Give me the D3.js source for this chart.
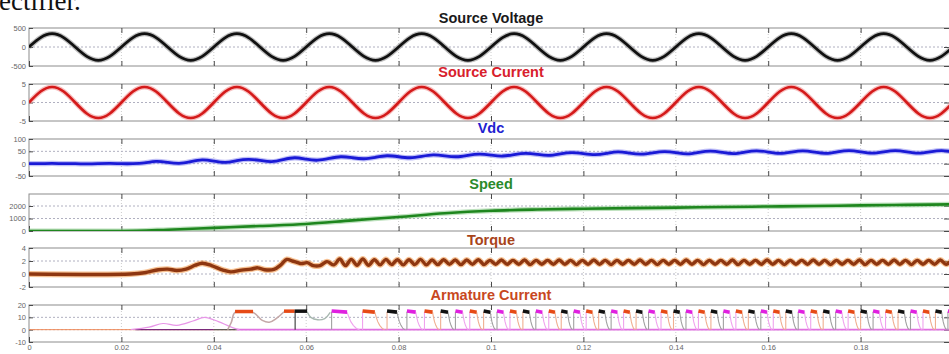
<!DOCTYPE html>
<html>
<head>
<meta charset="utf-8">
<script src="https://cdn.jsdelivr.net/npm/d3@7"></script>
<style>
  html, body { margin: 0; padding: 0; background: #fff; overflow: hidden; }
  svg { display: block; }
</style>
</head>
<body>
<div id="chart"></div>
<script>
// ---- data ----
const xTicks = [0, 0.02, 0.04, 0.06, 0.08, 0.1, 0.12, 0.14, 0.16, 0.18];
const panelTitles = ['Source Voltage', 'Source Current', 'Vdc', 'Speed', 'Torque', 'Armature Current'];
const panelDomains = [[-500, 500], [-5, 5], [-50, 100], [0, 2960], [-2, 4], [-10, 20]];
const panelTicks = [[-500, 0, 500], [-5, 0, 5], [-50, 0, 50, 100], [0, 1000, 2000], [-2, 0, 2, 4], [-10, 0, 10, 20]];

// sampled every 2.5 ms
const sampleStep = 0.0025;
const sourceVoltage = [
  0, 247, 350, 247, 0, -247, -350, -247,
  0, 247, 350, 247, 0, -247, -350, -247,
  0, 247, 350, 247, 0, -247, -350, -247,
  0, 247, 350, 247, 0, -247, -350, -247,
  0, 247, 350, 247, 0, -247, -350, -247,
  0, 247, 350, 247, 0, -247, -350, -247,
  0, 247, 350, 247, 0, -247, -350, -247,
  0, 247, 350, 247, 0, -247, -350, -247,
  0, 247, 350, 247, 0, -247, -350, -247,
  0, 247, 350, 247, 0, -247, -350, -247,
  0];
const sourceCurrent = [
  0, 2.97, 4.2, 2.97, 0, -2.97, -4.2, -2.97,
  0, 2.97, 4.2, 2.97, 0, -2.97, -4.2, -2.97,
  0, 2.97, 4.2, 2.97, 0, -2.97, -4.2, -2.97,
  0, 2.97, 4.2, 2.97, 0, -2.97, -4.2, -2.97,
  0, 2.97, 4.2, 2.97, 0, -2.97, -4.2, -2.97,
  0, 2.97, 4.2, 2.97, 0, -2.97, -4.2, -2.97,
  0, 2.97, 4.2, 2.97, 0, -2.97, -4.2, -2.97,
  0, 2.97, 4.2, 2.97, 0, -2.97, -4.2, -2.97,
  0, 2.97, 4.2, 2.97, 0, -2.97, -4.2, -2.97,
  0, 2.97, 4.2, 2.97, 0, -2.97, -4.2, -2.97,
  0];
const vdc = [
  0, 0, 1, 0, 0, -1, 0, 1,
  0, 0, 3, 9, 5, 1, 8, 15,
  10, 5, 12, 17, 13, 8, 16, 24,
  18, 14, 21, 28, 24, 20, 26, 32,
  28, 24, 30, 36, 32, 28, 34, 39,
  35, 31, 37, 42, 38, 34, 40, 45,
  41, 37, 42, 48, 43, 39, 44, 49,
  45, 40, 46, 51, 46, 41, 47, 52,
  47, 42, 47, 52, 47, 42, 48, 53,
  48, 43, 48, 53, 48, 43, 48, 53,
  48];

// speed every 10 ms
const speedStep = 0.01;
const speed = [0, 0, 0, 100, 250, 400, 560, 850, 1120, 1420, 1620, 1720, 1780, 1830, 1870, 1920, 1960, 2000, 2050, 2090, 2130];

// torque: start-up transient, then steady ripple
const torqueStart = [
  [0, 0], [0.022, 0], [0.025, 0.2], [0.028, 0.65], [0.03, 0.75], [0.032, 0.55], [0.034, 0.75],
  [0.036, 1.35], [0.0375, 1.65], [0.0395, 1.3], [0.042, 0.6], [0.0437, 0.33], [0.046, 0.6],
  [0.048, 0.75], [0.0495, 0.95], [0.051, 0.65], [0.053, 0.7], [0.0545, 1.4], [0.0558, 2.25],
  [0.057, 2.0], [0.058, 1.8], [0.059, 1.6], [0.0602, 1.75], [0.0615, 1.3], [0.063, 1.3], [0.0645, 1.9]];
const torqueRippleStart = 0.066;
const torqueRippleStep = 0.00125;
const torqueRipple = [
  1.4, 2.3, 1.3, 2.25, 1.35, 2.3, 1.35, 2.2, 1.4, 2.25,
  1.45, 2.2, 1.4, 2.2, 1.45, 2.25, 1.4, 2.15, 1.45, 2.2,
  1.5, 2.15, 1.45, 2.15, 1.5, 2.2, 1.45, 2.1, 1.5, 2.15,
  1.5, 2.1, 1.5, 2.15, 1.45, 2.1, 1.5, 2.1, 1.5, 2.15,
  1.5, 2.1, 1.45, 2.1, 1.5, 2.15, 1.5, 2.1, 1.45, 2.1,
  1.5, 2.1, 1.5, 2.15, 1.5, 2.1, 1.45, 2.1, 1.5, 2.1,
  1.5, 2.15, 1.5, 2.1, 1.45, 2.1, 1.5, 2.1, 1.5, 2.15,
  1.45, 2.1, 1.5, 2.1, 1.5, 2.15, 1.5, 2.1, 1.45, 2.1,
  1.5, 2.1, 1.5, 2.15, 1.5, 2.1, 1.45, 2.1, 1.5, 2.1,
  1.5, 2.15, 1.45, 2.1, 1.5, 2.1, 1.5, 2.15, 1.5, 2.1,
  1.45, 2.1, 1.5, 2.1, 1.5, 2.15, 1.5, 2.1];

// armature current: early phase traces
const armPink = [[0.022, 0], [0.026, 2], [0.029, 5], [0.032, 3.5], [0.0355, 7], [0.038, 10], [0.041, 6.5], [0.0435, 2.5], [0.0455, 0]];
const armGrayA = [[0.043, 0], [0.0438, 6], [0.0446, 14], [0.0485, 14], [0.0505, 7.5], [0.052, 6], [0.0535, 9], [0.0552, 14.5]];
const armGrayB = [[0.0602, 14.5], [0.061, 10], [0.0625, 8], [0.064, 9], [0.0652, 14]];
const armEarlyFlags = [[0.0446, 0.0485, 14.7, 1], [0.0552, 0.0575, 15, 1], [0.0575, 0.0602, 15, 2]];
// armature current: commutation pulses (start times)
const pulseTimes = [
  0.0655, 0.0722, 0.0775, 0.0818, 0.0856, 0.0891, 0.0923, 0.0954, 0.0984, 0.1013,
  0.1041, 0.1069, 0.1097, 0.1125, 0.1152, 0.1179, 0.1206, 0.1233, 0.126, 0.1287,
  0.1314, 0.1341, 0.1368, 0.1395, 0.1422, 0.1449, 0.1476, 0.1503, 0.153, 0.1557,
  0.1584, 0.1611, 0.1638, 0.1665, 0.1692, 0.1719, 0.1746, 0.1773, 0.18, 0.1827,
  0.1854, 0.1881, 0.1908, 0.1935, 0.1962, 0.1989, 0.2016];
// pulse outline as fractions of the gap to the next pulse
const pulseFlag = [[0, 15.2], [0.5, 14.2]];
const pulseTail = [[0.5, 14.2], [0.56, 10], [0.62, 6.5], [0.7, 3.5], [0.8, 1], [0.9, 0]];
const pulseLevel = 14.5;

// ---- drawing ----
const [W, H] = [949, 354];
const tops = [28, 84, 139, 194, 248, 305];
const bottoms = [66, 121, 176, 231, 287, 342];
const titleY = [23, 77, 133, 189, 245, 300];
const titleColors = ['#1a1a1a', '#d8202c', '#2020d0', '#2a8a2a', '#a8441a', '#c8481e'];
const flagColors = ['#e020e0', '#e64a16', '#111111'];
const flagLight = ['#f0a2ee', '#f0ae90', '#a0a0a0'];

const svg = d3.select('#chart').append('svg')
  .attr('width', W).attr('height', H)
  .style('font-family', 'Arial, "Liberation Sans", sans-serif');

// tail of the document sentence above the figure
svg.append('text').text('ectifier.')
  .attr('x', -1).attr('y', 10)
  .attr('font-family', '"Liberation Serif", "Times New Roman", serif')
  .attr('font-size', 27).attr('fill', '#111');

const x = d3.scaleLinear().domain([0, 0.2]).range([29, 953]);
const ys = [];

panelTitles.forEach((title, i) => {
  const [top, bot] = [tops[i], bottoms[i]];
  const dom = panelDomains[i];
  const y = d3.scaleLinear().domain(dom).range([bot, top]);
  ys.push(y);
  const g = svg.append('g');

  svg.append('clipPath').attr('id', `clip${i}`)
    .append('rect').attr('x', x(0)).attr('y', top).attr('width', x(0.2) - x(0)).attr('height', bot - top);

  // dotted grid
  g.selectAll('.vgrid').data(xTicks.slice(1)).join('line')
    .attr('x1', d => x(d)).attr('x2', d => x(d)).attr('y1', top).attr('y2', bot)
    .attr('stroke', '#cccccc').attr('stroke-dasharray', '1,2');
  g.selectAll('.hgrid').data(panelTicks[i].filter(v => v > dom[0] && v < dom[1])).join('line')
    .attr('x1', x(0)).attr('x2', x(0.2)).attr('y1', d => y(d)).attr('y2', d => y(d))
    .attr('stroke', '#b0b0c0').attr('stroke-dasharray', '2,2');

  // box
  g.append('rect').attr('x', x(0)).attr('y', top).attr('width', x(0.2) - x(0)).attr('height', bot - top)
    .attr('fill', 'none').attr('stroke', '#8c8c8c');

  // axes (inward ticks)
  const left = g.append('g').attr('transform', `translate(${x(0)},0)`)
    .call(d3.axisLeft(y).tickValues(panelTicks[i]).tickSize(-4).tickSizeOuter(0).tickPadding(3)
      .tickFormat(d => String(d)));
  const right = g.append('g').attr('transform', `translate(${x(0.2)},0)`)
    .call(d3.axisRight(y).tickValues(panelTicks[i]).tickSize(-9).tickSizeOuter(0).tickFormat(''));
  const upper = g.append('g').attr('transform', `translate(0,${top})`)
    .call(d3.axisTop(x).tickValues(xTicks.slice(1)).tickSize(-5).tickSizeOuter(0).tickFormat(''));
  const lower = g.append('g').attr('transform', `translate(0,${bot})`)
    .call(d3.axisBottom(x).tickValues(xTicks).tickSize(-5).tickSizeOuter(0).tickPadding(3)
      .tickFormat(d => i === panelTitles.length - 1 ? (d === 0 ? '0' : String(+d.toFixed(2))) : ''));
  [left, right, upper, lower].forEach(a => {
    a.select('.domain').remove();
    a.selectAll('line').attr('stroke', '#4a4a4a');
    a.selectAll('text').attr('fill', '#666').attr('font-size', 7.5).attr('font-family', 'Arial, "Liberation Sans", sans-serif');
  });

  svg.append('text').text(title)
    .attr('x', x(0.1)).attr('y', titleY[i])
    .attr('text-anchor', 'middle').attr('font-weight', 'bold').attr('font-size', 14.5)
    .attr('fill', titleColors[i]);
});

const layer = i => svg.append('g').attr('clip-path', `url(#clip${i})`);
const lineFor = (i, curve) => d3.line().x(d => x(d[0])).y(d => ys[i](d[1])).curve(curve || d3.curveLinear);
const sampled = (arr, step, t0 = 0) => arr.map((v, k) => [t0 + k * step, v]);

function trace(i, pts, color, width, curve, halo) {
  const g = layer(i);
  if (halo) {
    g.append('path').attr('d', lineFor(i, curve)(pts)).attr('fill', 'none')
      .attr('stroke', halo).attr('stroke-width', width + 2.5).attr('stroke-opacity', 0.55)
      .attr('stroke-linejoin', 'round');
  }
  g.append('path').attr('d', lineFor(i, curve)(pts)).attr('fill', 'none')
    .attr('stroke', color).attr('stroke-width', width).attr('stroke-linejoin', 'round');
}

trace(0, sampled(sourceVoltage, sampleStep), '#111', 2.8, d3.curveNatural, '#888');
trace(1, sampled(sourceCurrent, sampleStep), '#d41a1a', 2.6, d3.curveNatural, '#f08a8a');
trace(2, sampled(vdc, sampleStep), '#1a1ad6', 2.8, d3.curveNatural, '#8a8af0');
trace(3, sampled(speed, speedStep), '#1e861e', 2.6, d3.curveMonotoneX, '#86c886');
trace(4, torqueStart.concat(sampled(torqueRipple, torqueRippleStep, torqueRippleStart)),
  '#8e3610', 3.4, d3.curveCatmullRom, '#f0903c');

// armature current
const arm = layer(5);
const armLine = lineFor(5);
const armPath = (pts, color, width) => arm.append('path').attr('d', armLine(pts)).attr('fill', 'none')
  .attr('stroke', color).attr('stroke-width', width);

armPath([[0, 0], [0.045, 0]], '#f08a5a', 1);
armPath([[0.023, 0], [0.04, 0]], '#7a2a7a', 1.2);
armPath([[0.04, 0], [0.045, 0]], '#555', 1.2);
armPath([[0.045, 0], [0.2, 0]], '#e070e0', 1.6);
arm.append('path').attr('d', lineFor(5, d3.curveCatmullRom)(armPink)).attr('fill', 'none')
  .attr('stroke', '#e896e8').attr('stroke-width', 1.2);
arm.append('path').attr('d', lineFor(5, d3.curveCatmullRom)(armGrayA)).attr('fill', 'none')
  .attr('stroke', '#c4a8a8').attr('stroke-width', 1.6);
arm.append('path').attr('d', lineFor(5, d3.curveCatmullRom)(armGrayB)).attr('fill', 'none')
  .attr('stroke', '#a8b8b0').attr('stroke-width', 1.4);
armPath([[0.0576, 0], [0.0576, 15]], '#222', 1);
armEarlyFlags.forEach(([t0, t1, v, c]) => armPath([[t0, v], [t1, v]], flagColors[c], 3.5));

pulseTimes.slice(0, -1).forEach((t, k) => {
  const c = k % 3;
  const gap = pulseTimes[k + 1] - t;
  const at = pts => pts.map(([f, v]) => [t + f * gap, v]);
  armPath([[t, 0], [t, pulseLevel]], flagLight[(c + 2) % 3], 1.1);
  armPath(at(pulseTail), flagLight[c], 1.1);
  armPath(at(pulseFlag), flagColors[c], 3.6);
});
</script>
</body>
</html>
